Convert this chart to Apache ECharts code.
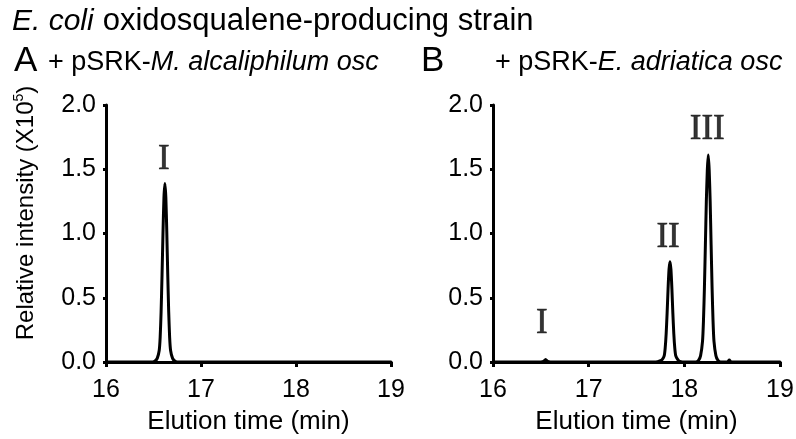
<!DOCTYPE html>
<html>
<head>
<meta charset="utf-8">
<script src="https://cdn.jsdelivr.net/npm/echarts@6/dist/echarts.min.js"></script>
<style>
html,body{margin:0;padding:0;background:#fff;}
#chart{width:796px;height:439px;}
</style>
</head>
<body>
<div id="chart"></div>
<script>
// ---- data ----
const xTicks = [16, 17, 18, 19];
const yTicks = [0.0, 0.5, 1.0, 1.5, 2.0];

// Panel A: + pSRK-M. alcaliphilum osc
const timeA = [16.00, 16.40, 16.49, 16.52, 16.54, 16.56, 16.57, 16.58, 16.59, 16.60, 16.61, 16.62,
               16.63, 16.64, 16.65, 16.66, 16.67, 16.68, 16.70, 16.72, 16.75, 16.85, 19.00];
const intensityA = [0, 0, 0, 0.01, 0.03, 0.09, 0.19, 0.39, 0.68, 1.01, 1.28, 1.39,
                    1.28, 1.01, 0.68, 0.39, 0.19, 0.09, 0.03, 0.01, 0, 0, 0];

// Panel B: + pSRK-E. adriatica osc
const timeB = [16.00, 16.50, 16.53, 16.55, 16.57, 16.60,
               17.70, 17.75, 17.77, 17.79, 17.80, 17.81, 17.82, 17.83, 17.84, 17.85,
               17.86, 17.87, 17.88, 17.89, 17.90, 17.91, 17.93, 17.95, 17.98,
               18.12, 18.15, 18.17, 18.19, 18.20, 18.21, 18.22, 18.23, 18.24, 18.25,
               18.26, 18.27, 18.28, 18.29, 18.30, 18.31, 18.33, 18.35, 18.38,
               18.45, 18.47, 18.49, 19.00];
const intensityB = [0, 0, 0.005, 0.02, 0.005, 0,
                    0, 0.01, 0.02, 0.05, 0.11, 0.22, 0.38, 0.57, 0.72, 0.78,
                    0.72, 0.57, 0.38, 0.22, 0.11, 0.05, 0.02, 0.005, 0,
                    0, 0.015, 0.05, 0.16, 0.32, 0.58, 0.91, 1.25, 1.49, 1.61,
                    1.49, 1.25, 0.91, 0.58, 0.32, 0.16, 0.05, 0.015, 0,
                    0, 0.015, 0, 0];

// Peak labels (compound numerals) and where they sit
const peakNamesA = ['I'];
const peakTimesA = [16.61];
const peakLabelYA = [1.57];
const peakNamesB = ['I', 'II', 'III'];
const peakTimesB = [16.51, 17.83, 18.24];
const peakLabelYB = [0.30, 0.97, 1.81];

const titleItalic = 'E. coli';
const titleText = 'oxidosqualene-producing strain';
const subtitleA = ['+ pSRK-', 'M. alcaliphilum osc'];
const subtitleB = ['+ pSRK-', 'E. adriatica osc'];
const xName = 'Elution time (min)';

// ---- chart ----
const SANS = '"Liberation Sans", Arial, sans-serif';
const SERIF = '"Liberation Serif", "Times New Roman", serif';

function pairs(xs, ys) { return xs.map((x, i) => [x, ys[i]]); }

function xAxisCfg(gi) {
  return {
    type: 'value', gridIndex: gi, min: 16, max: 19, interval: 1,
    name: xName, nameLocation: 'middle', nameGap: 47,
    nameTextStyle: { fontFamily: SANS, fontSize: 26, color: '#000' },
    axisLine: { show: true, lineStyle: { color: '#000', width: 3 } },
    axisTick: { show: true, length: 5, lineStyle: { color: '#000', width: 3 } },
    axisLabel: { fontFamily: SANS, fontSize: 25, color: '#000', margin: 16,
                 customValues: xTicks },
    splitLine: { show: false }
  };
}
function yAxisCfg(gi) {
  return {
    type: 'value', gridIndex: gi, min: 0, max: 2, interval: 0.5,
    axisLine: { show: true, lineStyle: { color: '#000', width: 3 } },
    axisTick: { show: true, length: 3, lineStyle: { color: '#000', width: 3 } },
    axisLabel: { fontFamily: SANS, fontSize: 25, color: '#000', margin: 10,
                 formatter: v => v.toFixed(1) },
    splitLine: { show: false }
  };
}
function labelSeries(gi, names, times, ys) {
  return {
    type: 'scatter', xAxisIndex: gi, yAxisIndex: gi, silent: true,
    symbolSize: 1, itemStyle: { color: 'rgba(0,0,0,0)' },
    data: names.map((n, i) => ({ value: [times[i], ys[i]], name: n })),
    label: { show: true, position: 'inside', formatter: p => p.name,
             fontFamily: SERIF, fontSize: 35, color: '#000',
             textBorderColor: '#000', textBorderWidth: 0.6 }
  };
}
function lineSeries(gi, xs, ys) {
  return {
    type: 'line', xAxisIndex: gi, yAxisIndex: gi, data: pairs(xs, ys),
    showSymbol: false, smooth: 0.2, silent: true,
    lineStyle: { color: '#000', width: 3, join: 'round', cap: 'round' }
  };
}

const chart = echarts.init(document.getElementById('chart'), null, { renderer: 'canvas' });
chart.setOption({
  backgroundColor: '#fff',
  animation: false,
  grid: [
    { left: 106, right: 405, top: 105, bottom: 77, containLabel: false, outerBoundsMode: 'none' },
    { left: 493, right: 16, top: 105, bottom: 77, containLabel: false, outerBoundsMode: 'none' }
  ],
  xAxis: [xAxisCfg(0), xAxisCfg(1)],
  yAxis: [yAxisCfg(0), yAxisCfg(1)],
  series: [
    lineSeries(0, timeA, intensityA),
    lineSeries(1, timeB, intensityB),
    labelSeries(0, peakNamesA, peakTimesA, peakLabelYA),
    labelSeries(1, peakNamesB, peakTimesB, peakLabelYB)
  ],
  graphic: [
    { type: 'text', left: 12, top: 6,
      style: { text: '{i|' + titleItalic + '}{n|' + titleText + '}',
               rich: { i: { fontFamily: SANS, fontStyle: 'italic', fontSize: 30, fill: '#000', padding: [0, 9, 0, 0] },
                       n: { fontFamily: SANS, fontSize: 31, fill: '#000' } } } },
    { type: 'text', left: 14, top: 44,
      style: { text: 'A', fontFamily: SANS, fontSize: 35, fill: '#000' } },
    { type: 'text', left: 48, top: 49,
      style: { text: '{n|' + subtitleA[0] + '}{i|' + subtitleA[1] + '}',
               rich: { n: { fontFamily: SANS, fontSize: 27, fill: '#000' },
                       i: { fontFamily: SANS, fontStyle: 'italic', fontSize: 27, fill: '#000' } } } },
    { type: 'text', left: 421, top: 44,
      style: { text: 'B', fontFamily: SANS, fontSize: 35, fill: '#000' } },
    { type: 'text', left: 495, top: 49,
      style: { text: '{n|' + subtitleB[0] + '}{i|' + subtitleB[1] + '}',
               rich: { n: { fontFamily: SANS, fontSize: 27, fill: '#000' },
                       i: { fontFamily: SANS, fontStyle: 'italic', fontSize: 27, fill: '#000' } } } },
    { type: 'text', x: 26, y: 213, rotation: Math.PI / 2,
      style: { text: '{n|Relative intensity (X10}{s|5}{n|)}',
               align: 'center', verticalAlign: 'middle',
               rich: { n: { fontFamily: SANS, fontSize: 24, fill: '#000', lineHeight: 28 },
                       s: { fontFamily: SANS, fontSize: 14, fill: '#000', lineHeight: 14, verticalAlign: 'top' } } } }
  ]
});
</script>
</body>
</html>
